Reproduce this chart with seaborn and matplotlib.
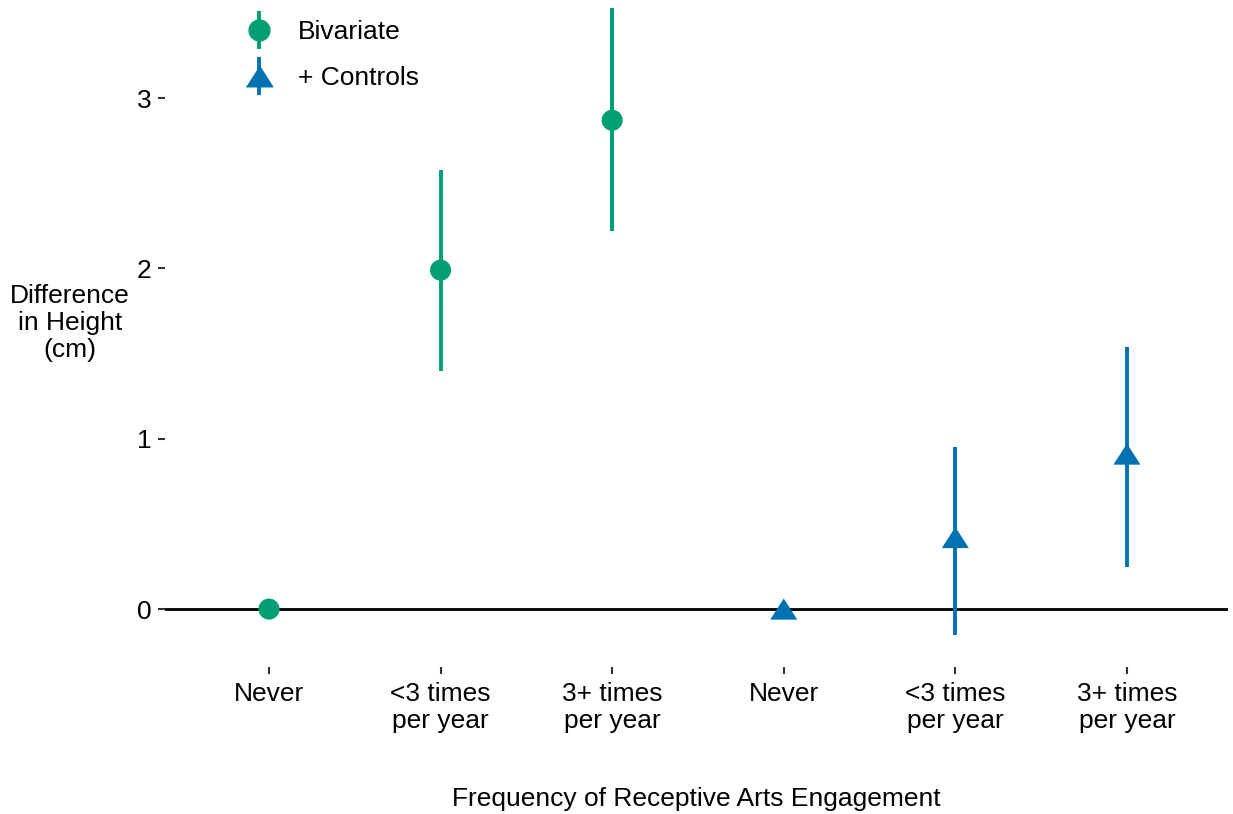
import matplotlib
matplotlib.use('Agg')
import matplotlib.pyplot as plt
from matplotlib.lines import Line2D
import numpy as np
import pandas as pd
import seaborn as sns

# data
categories = ['Never', '<3 times\nper year', '3+ times\nper year']
models = ['Bivariate', '+ Controls']
biv_est = [0.0, 1.99, 2.87]
biv_lo = [np.nan, 1.40, 2.22]
biv_hi = [np.nan, 2.58, 3.53]
ctl_est = [0.0, 0.42, 0.91]
ctl_lo = [np.nan, -0.15, 0.25]
ctl_hi = [np.nan, 0.95, 1.54]

COLORS = {'Bivariate': '#009E73', '+ Controls': '#0072B2'}
# flat triangle like ggplot's shape 17
TRI = [(-1, -0.78), (1, -0.78), (0, 0.78)]
MARKERS = {'Bivariate': 'o', '+ Controls': TRI}

df = pd.DataFrame({
    'model': [models[0]] * 3 + [models[1]] * 3,
    'label': categories * 2,
    'est': biv_est + ctl_est,
    'lo': biv_lo + ctl_lo,
    'hi': biv_hi + ctl_hi,
})
df['pos'] = np.arange(len(df))

sns.set_style('white')
plt.rcParams['font.family'] = ['Liberation Sans', 'DejaVu Sans']
plt.rcParams['text.color'] = 'black'
plt.rcParams['axes.labelcolor'] = 'black'
plt.rcParams['xtick.color'] = 'black'
plt.rcParams['ytick.color'] = 'black'
FS = 19

fig = plt.figure(figsize=(12.33, 8.14), dpi=100)
ax = fig.add_axes([165 / 1233, 1 - 667 / 814, (1228 - 165) / 1233, 667 / 814])

ax.axhline(0, color='black', lw=2, zorder=1)

for m in models:
    sub = df[df['model'] == m]
    ax.vlines(sub['pos'], sub['lo'], sub['hi'], color=COLORS[m], lw=2.8, zorder=2)

sns.scatterplot(data=df, x='pos', y='est', hue='model', style='model',
                palette=COLORS, markers=MARKERS, size='model',
                sizes={'Bivariate': 230, '+ Controls': 380},
                edgecolor='none', legend=False, ax=ax, zorder=3)

ax.set_xlim(-0.606, 5.589)
ax.set_ylim(-0.34, 3.576)
ax.set_xticks(df['pos'])
ax.set_xticklabels(df['label'], fontsize=FS, linespacing=1.14)
ax.set_yticks([0, 1, 2, 3])
ax.set_yticklabels(['0', '1', '2', '3'], fontsize=FS)
ax.tick_params(axis='both', length=5, width=1.5, color='#333333',
               direction='out', bottom=True, left=True, labelcolor='black')
ax.tick_params(axis='y', pad=4.5)
ax.tick_params(axis='x', pad=6)
sns.despine(ax=ax, left=True, bottom=True)

ax.set_ylabel('Difference\nin Height\n(cm)', fontsize=FS, rotation=0,
              ha='center', va='center', linespacing=1.17)
ax.yaxis.set_label_coords(-0.0894, 0.516)
ax.set_xlabel('Frequency of Receptive Arts Engagement', fontsize=FS, va='center')
ax.xaxis.set_label_coords(0.5, -0.198)

handles = []
for m in models:
    bar = Line2D([], [], marker='|', markersize=27, markeredgewidth=2.8,
                 color=COLORS[m], linestyle='none')
    dot = Line2D([], [], marker=MARKERS[m], markersize=15 if m == 'Bivariate' else 19,
                 color=COLORS[m], linestyle='none')
    handles.append((bar, dot))
ax.legend(handles, models, loc='upper left', bbox_to_anchor=(235 / 1233, 1 - 12 / 814),
          bbox_transform=fig.transFigure, frameon=False, fontsize=FS,
          handlelength=1.2, handletextpad=0.9, labelspacing=0.85, borderpad=0.3,
          borderaxespad=0)

fig.savefig('out.png', dpi=100)
plt.close()
